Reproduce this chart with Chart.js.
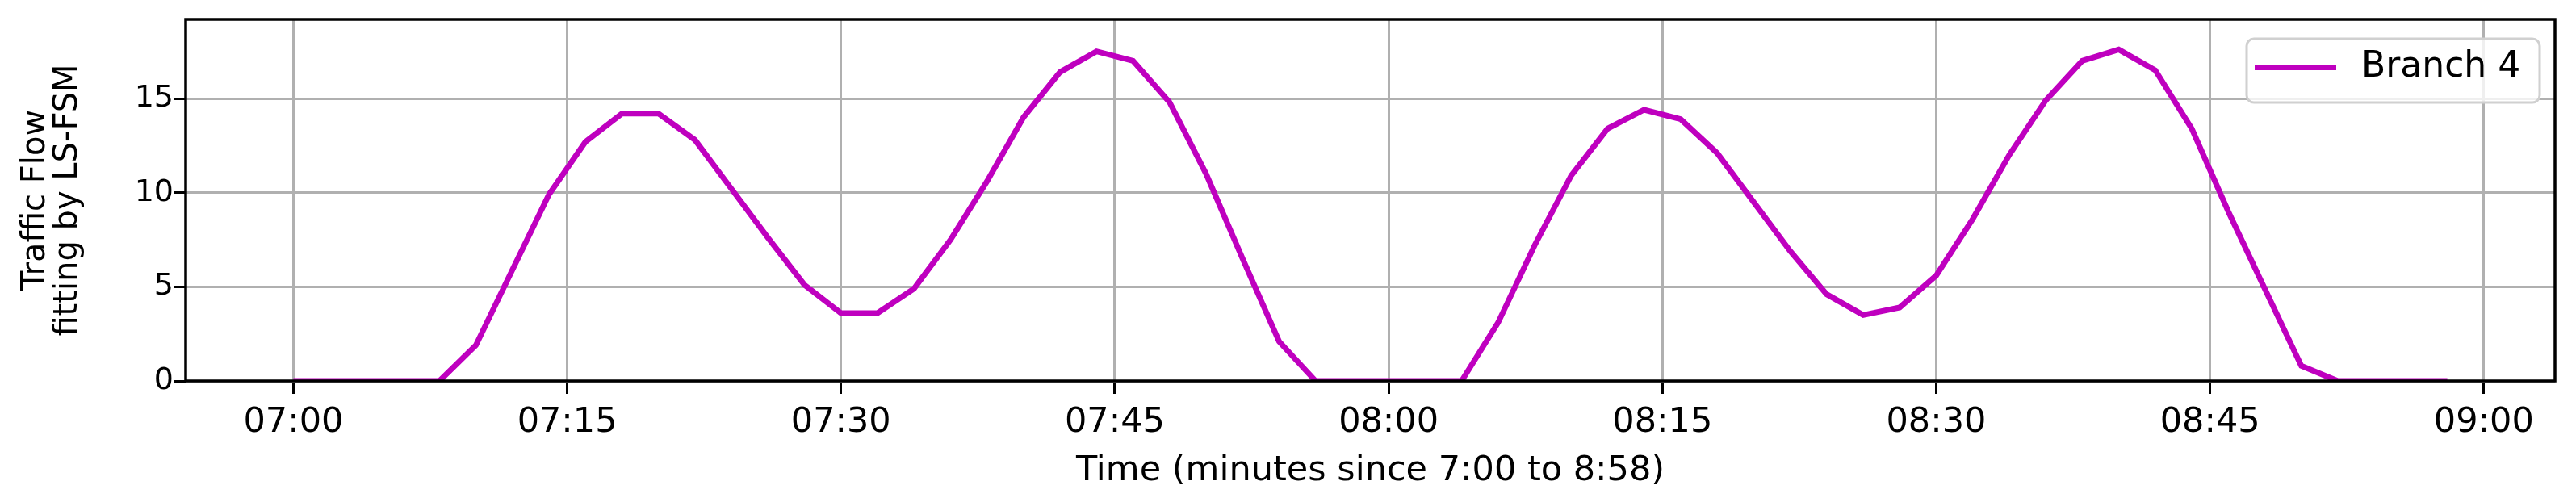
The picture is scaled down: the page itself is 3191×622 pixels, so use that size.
<!DOCTYPE html>
<html lang="en">
<head>
<meta charset="UTF-8">
<title>Traffic Flow fitting by LS-FSM - Branch 4</title>
<script src="https://cdn.jsdelivr.net/npm/chart.js"></script>
<style>
    html, body { margin: 0; padding: 0; background: #ffffff; }
    #wrap { width: 3191px; height: 622px; }
</style>
</head>
<body>
<div id="wrap"><canvas id="flowChart" width="3191" height="622"></canvas></div>
<script>
    // minutes since 7:00, one sample every 2 minutes up to 8:58
    const minutes = [
        0, 2, 4, 6, 8, 10, 12, 14, 16, 18,
        20, 22, 24, 26, 28, 30, 32, 34, 36, 38,
        40, 42, 44, 46, 48, 50, 52, 54, 56, 58,
        60, 62, 64, 66, 68, 70, 72, 74, 76, 78,
        80, 82, 84, 86, 88, 90, 92, 94, 96, 98,
        100, 102, 104, 106, 108, 110, 112, 114, 116, 118
    ];
    const branch4 = [
        0, 0, 0, 0, 0, 1.9, 5.9, 9.9, 12.7, 14.2,
        14.2, 12.8, 10.2, 7.6, 5.1, 3.6, 3.6, 4.9, 7.5, 10.6,
        14.0, 16.4, 17.5, 17.0, 14.8, 11.0, 6.5, 2.1, 0, 0,
        0, 0, 0, 3.1, 7.2, 10.9, 13.4, 14.4, 13.9, 12.1,
        9.5, 6.9, 4.6, 3.5, 3.9, 5.6, 8.6, 12.0, 14.9, 17.0,
        17.6, 16.5, 13.4, 9.0, 4.9, 0.8, 0, 0, 0, 0
    ];
    const seriesLabel = 'Branch 4';
    const xTickMinutes = [0, 15, 30, 45, 60, 75, 90, 105, 120];
    const xTickLabels = ['07:00', '07:15', '07:30', '07:45', '08:00', '08:15', '08:30', '08:45', '09:00'];
    const yTickValues = [0, 5, 10, 15];
    const xTitle = 'Time (minutes since 7:00 to 8:58)';
    const yTitle = ['Traffic Flow', 'fitting by LS-FSM'];

    const FONT = "'DejaVu Sans', sans-serif";
    const MAGENTA = '#bf00bf';

    // black box around the plot, drawn over the line like matplotlib spines
    const frame = {
        id: 'frame',
        afterDatasetsDraw(chart) {
            const { ctx, chartArea: a } = chart;
            ctx.save();
            ctx.strokeStyle = '#000';
            ctx.lineWidth = 3.5;
            ctx.strokeRect(a.left, a.top, a.right - a.left, a.bottom - a.top);
            ctx.restore();
        }
    };

    // legend box in the upper right corner
    const cornerLegend = {
        id: 'cornerLegend',
        afterDraw(chart) {
            const ctx = chart.ctx;
            const ds = chart.data.datasets[0];
            const x = 2783, y = 48, w = 363, h = 79, r = 9;
            ctx.save();
            ctx.beginPath();
            ctx.roundRect(x, y, w, h, r);
            ctx.fillStyle = 'rgba(255,255,255,0.8)';
            ctx.fill();
            ctx.strokeStyle = '#d0d0d0';
            ctx.lineWidth = 3;
            ctx.stroke();

            const cy = y + h / 2 - 4;
            ctx.beginPath();
            ctx.moveTo(x + 10, cy);
            ctx.lineTo(x + 111, cy);
            ctx.strokeStyle = ds.borderColor;
            ctx.lineWidth = ds.borderWidth;
            ctx.stroke();

            ctx.fillStyle = '#000';
            ctx.font = '44px ' + FONT;
            ctx.textBaseline = 'middle';
            ctx.textAlign = 'left';
            ctx.fillText(ds.label, x + 142, cy);
            ctx.restore();
        }
    };

    new Chart(document.getElementById('flowChart'), {
        type: 'line',
        data: {
            datasets: [{
                label: seriesLabel,
                data: minutes.map((m, i) => ({ x: m, y: branch4[i] })),
                borderColor: MAGENTA,
                borderWidth: 7,
                pointRadius: 0,
                tension: 0,
                fill: false
            }]
        },
        options: {
            responsive: false,
            animation: false,
            devicePixelRatio: 1,
            layout: { padding: { top: 24, right: 26, bottom: 0, left: 0 } },
            plugins: {
                legend: { display: false },
                tooltip: { enabled: false }
            },
            scales: {
                x: {
                    type: 'linear',
                    min: -5.9,
                    max: 123.9,
                    afterBuildTicks: (scale) => { scale.ticks = xTickMinutes.map(v => ({ value: v })); },
                    afterFit: (scale) => {
                        scale.height = 150;
                        scale.paddingLeft = 0;
                        scale.paddingRight = 0;
                    },
                    border: { display: false },
                    grid: {
                        color: '#b0b0b0',
                        lineWidth: 3,
                        drawTicks: true,
                        tickLength: 16,
                        tickColor: '#000',
                        tickWidth: 3
                    },
                    ticks: {
                        autoSkip: false,
                        maxRotation: 0,
                        padding: 10,
                        color: '#000',
                        font: { family: FONT, size: 43 },
                        callback: (v) => xTickLabels[xTickMinutes.indexOf(v)]
                    },
                    title: {
                        display: true,
                        text: xTitle,
                        color: '#000',
                        font: { family: FONT, size: 43, lineHeight: 1.0 },
                        padding: { top: 0, bottom: 17 }
                    }
                },
                y: {
                    min: 0,
                    max: 19.2,
                    afterBuildTicks: (scale) => { scale.ticks = yTickValues.map(v => ({ value: v })); },
                    afterFit: (scale) => {
                        scale.width = 230;
                        scale.paddingTop = 0;
                        scale.paddingBottom = 0;
                    },
                    border: { display: false },
                    grid: {
                        color: '#b0b0b0',
                        lineWidth: 3,
                        drawTicks: true,
                        tickLength: 15,
                        tickColor: '#000',
                        tickWidth: 3
                    },
                    ticks: {
                        padding: 0,
                        color: '#000',
                        font: { family: FONT, size: 38 }
                    },
                    title: {
                        display: true,
                        text: yTitle,
                        color: '#000',
                        font: { family: FONT, size: 40, lineHeight: 1.0 },
                        padding: { top: 25, bottom: 0 }
                    }
                }
            }
        },
        plugins: [frame, cornerLegend]
    });
</script>
</body>
</html>
